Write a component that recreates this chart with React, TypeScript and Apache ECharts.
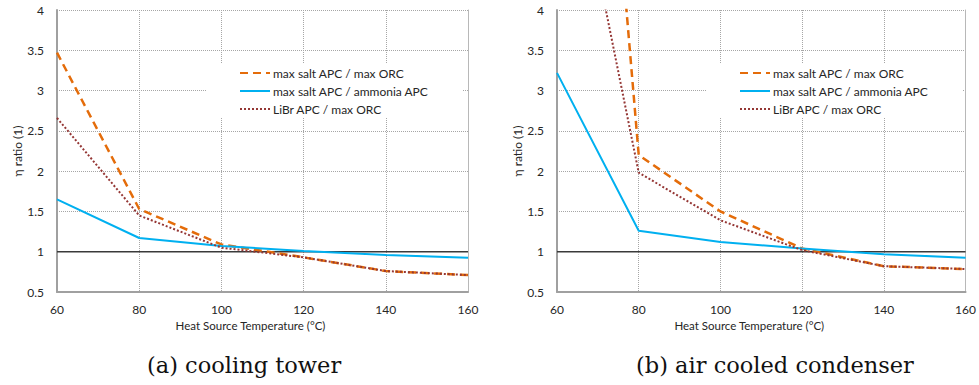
import React, { useEffect, useRef } from "react";
import * as echarts from "echarts";

const temps = [60, 80, 100, 120, 140, 160];
const yTicks = { min: 0.5, max: 4, interval: 0.5 };
const seriesNames = ["max salt APC / max ORC", "max salt APC / ammonia APC", "LiBr APC / max ORC"];

// (a) cooling tower
const saltOrcA = [3.47, 1.53, 1.09, 0.93, 0.76, 0.71];
const saltAmmoniaA = [1.65, 1.17, 1.07, 1.01, 0.96, 0.925];
const librOrcA = [2.66, 1.45, 1.05, 0.93, 0.76, 0.71];

// (b) air cooled condenser
const saltOrcB = [14.2, 2.2, 1.5, 1.04, 0.82, 0.785];
const saltAmmoniaB = [3.22, 1.26, 1.12, 1.04, 0.97, 0.925];
const librOrcB = [7.0, 1.98, 1.39, 1.02, 0.82, 0.785];

const refLine = [1, 1];
const refTemps = [60, 160];

const captions = ["(a) cooling tower", "(b) air cooled condenser"];
const xName = "Heat Source Temperature (°C)";
const yName = "η ratio (1)";

const FONT = "Lato";
const TXT = "#262626";
const GRIDC = "#A6A6A6";
const AXISC = "#A0A0A0";

const pair = (xs: number[], ys: number[]) => xs.map((x, i) => [x, ys[i]]);

export default function App() {
  const ref = useRef<HTMLDivElement>(null);
  useEffect(() => {
    if (!ref.current) return;
    const chart = echarts.init(ref.current, null, { renderer: "svg" });
    const grids = [
      { left: 57, top: 10, width: 411, height: 282 },
      { left: 557, top: 10, width: 411, height: 282 },
    ];
    const data = [
      [saltOrcA, saltAmmoniaA, librOrcA],
      [saltOrcB, saltAmmoniaB, librOrcB],
    ];
    const xAxes: any[] = [];
    const yAxes: any[] = [];
    const series: any[] = [];
    grids.forEach((g, gi) => {
      xAxes.push({
        type: "value",
        gridIndex: gi,
        min: 60,
        max: 160,
        interval: 20,
        name: xName,
        nameLocation: "middle",
        nameGap: 27,
        nameTextStyle: { fontFamily: FONT, fontSize: 11.5, color: TXT, padding: [0, 24, 0, 0] },
        axisLine: { show: true, lineStyle: { color: AXISC, width: 2 } },
        axisTick: { show: false },
        axisLabel: { fontFamily: FONT, fontSize: 12, color: TXT, margin: 11 },
        splitLine: { show: true, lineStyle: { color: GRIDC, type: [1, 1], width: 1 } },
      });
      yAxes.push({
        type: "value",
        gridIndex: gi,
        ...yTicks,
        name: yName,
        nameLocation: "middle",
        nameGap: 34,
        nameRotate: 90,
        nameTextStyle: { fontFamily: FONT, fontSize: 12, color: TXT },
        axisLine: { show: true, lineStyle: { color: AXISC, width: 2 } },
        axisTick: { show: false },
        axisLabel: { fontFamily: FONT, fontSize: 12, color: TXT, margin: 13 },
        splitLine: { show: true, lineStyle: { color: GRIDC, type: [1, 1], width: 1 } },
      });
      yAxes.push({
        type: "value",
        gridIndex: gi,
        position: "right",
        ...yTicks,
        axisLine: { show: true, onZero: false, lineStyle: { color: "#B8B8B8", width: 1 } },
        axisTick: { show: false },
        axisLabel: { show: false },
        splitLine: { show: false },
      });
      const xi = gi;
      const yi = gi * 2;
      series.push({
        type: "line",
        name: "ref",
        xAxisIndex: xi,
        yAxisIndex: yi,
        data: pair(refTemps, refLine),
        symbol: "none",
        lineStyle: { color: "#3A3A3A", width: 1.5 },
        silent: true,
      });
      const [o, b, d] = data[gi];
      series.push({
        type: "line",
        name: seriesNames[0],
        xAxisIndex: xi,
        yAxisIndex: yi,
        data: pair(temps, o),
        symbol: "none",
        clip: true,
        color: "#E46C0A",
        lineStyle: { color: "#E46C0A", width: 2.5, type: [8, 5] },
      });
      series.push({
        type: "line",
        name: seriesNames[1],
        xAxisIndex: xi,
        yAxisIndex: yi,
        data: pair(temps, b),
        symbol: "none",
        clip: true,
        color: "#00B0F0",
        lineStyle: { color: "#00B0F0", width: 2 },
      });
      series.push({
        type: "line",
        name: seriesNames[2],
        xAxisIndex: xi,
        yAxisIndex: yi,
        data: pair(temps, d),
        symbol: "none",
        clip: true,
        color: "#953735",
        lineStyle: { color: "#953735", width: 2, type: [2, 2] },
      });
    });
    const legends = grids.map((g) => ({
      data: seriesNames,
      orient: "vertical",
      left: g.left + 149,
      top: 63,
      backgroundColor: "#ffffff",
      padding: [3, 34, 2, 33],
      itemWidth: 30,
      itemHeight: 14,
      itemGap: 4,
      selectedMode: false,
      itemStyle: { opacity: 0, borderWidth: 0 },
      textStyle: { fontFamily: FONT, fontSize: 12, color: TXT, lineHeight: 14, padding: [0, 0, 0, -2] },
    }));
    chart.setOption({
      animation: false,
      backgroundColor: "#ffffff",
      grid: grids,
      xAxis: xAxes,
      yAxis: yAxes,
      series,
      legend: legends,
      graphic: [
        {
          type: "text",
          left: 147,
          top: 353,
          style: { text: captions[0], fontFamily: "DejaVu Serif", fontSize: 22.5, fill: "#111" },
        },
        {
          type: "text",
          left: 636,
          top: 353,
          style: { text: captions[1], fontFamily: "DejaVu Serif", fontSize: 22.5, fill: "#111" },
        },
      ],
    });
    return () => chart.dispose();
  }, []);
  return (
    <div
      ref={ref}
      style={{ position: "absolute", left: 0, top: 0, width: 979, height: 385 }}
    />
  );
}
